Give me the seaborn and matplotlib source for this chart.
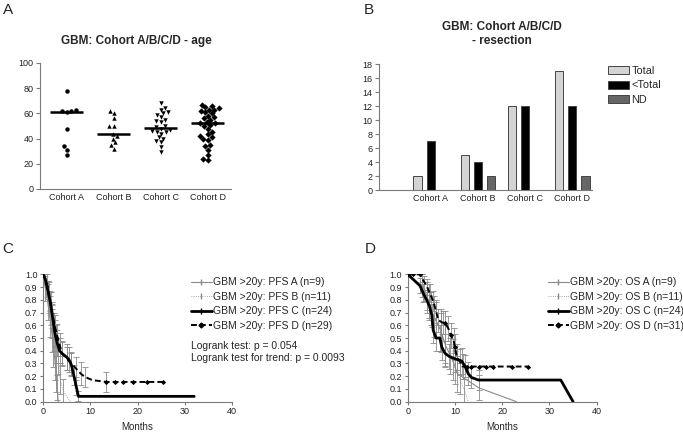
import numpy as np
import pandas as pd
import matplotlib
matplotlib.use("Agg")
import matplotlib.pyplot as plt
from matplotlib.lines import Line2D
import seaborn as sns

sns.set_style("ticks")
plt.rcParams["font.family"] = ["Liberation Sans", "DejaVu Sans"]

# ── data ────────────────────────────────────────────────────────────────────
cohorts = ["Cohort A", "Cohort B", "Cohort C", "Cohort D"]

age_a = [78, 63, 62, 61, 62, 48, 34, 31, 27]
age_b = [62, 60, 56, 50, 50, 44, 42, 40, 37, 35, 32]
age_c = [68, 64, 63, 61, 60, 59, 57, 55, 54, 53, 50, 49, 48, 47, 46, 45, 45,
         44, 41, 40, 38, 37, 33, 29]
age_d = [67, 66, 65, 64, 63, 63, 62, 61, 60, 58, 57, 56, 55, 53, 52, 52, 51,
         50, 48, 45, 44, 42, 41, 40, 39, 35, 34, 31, 27, 24, 23]

res_types = ["Total", "<Total", "ND"]
res_total = [2, 5, 12, 17]
res_less = [7, 4, 12, 12]
res_nd = [0, 2, 0, 2]

# PFS (panel C): time (months), survival fraction, error
pfs_a_t = [0, 0.5, 1.0, 1.4, 1.8, 2.2, 2.5, 2.8, 3.0, 3.2]
pfs_a_s = [1, 0.89, 0.78, 0.67, 0.56, 0.44, 0.33, 0.22, 0.11, 0.0]
pfs_a_e = [0, 0.10, 0.14, 0.16, 0.17, 0.17, 0.16, 0.14, 0.10, 0]

pfs_b_t = [0, 0.8, 1.2, 1.6, 2.0, 2.4, 2.8, 3.2, 3.6, 4.2, 5.8]
pfs_b_s = [1, 0.91, 0.82, 0.73, 0.64, 0.55, 0.45, 0.36, 0.18, 0.09, 0.0]
pfs_b_e = [0, 0.09, 0.12, 0.13, 0.14, 0.15, 0.15, 0.14, 0.12, 0.09, 0]

pfs_c_t = [0, 0.5, 1, 1.5, 2, 2.5, 3, 3.5, 4, 5, 5.5, 6, 6.5, 7, 7.5, 32]
pfs_c_s = [1, 0.96, 0.875, 0.79, 0.67, 0.54, 0.46, 0.40, 0.38, 0.35, 0.33,
           0.29, 0.21, 0.125, 0.042, 0.042]
pfs_c_e = [0, 0.04, 0.07, 0.08, 0.09, 0.10, 0.10, 0.10, 0.10, 0.10, 0.10,
           0.09, 0.08, 0.07, 0.04, 0]

pfs_d_t = [0, 0.5, 1, 1.5, 2, 2.5, 3, 3.5, 4, 5, 6, 7, 8, 8.8, 10.4, 13.4, 25.5]
pfs_d_s = [1, 0.97, 0.90, 0.79, 0.69, 0.59, 0.52, 0.45, 0.38, 0.34, 0.30,
           0.26, 0.22, 0.196, 0.17, 0.155, 0.155]
pfs_d_e = [0, 0.03, 0.05, 0.07, 0.08, 0.09, 0.09, 0.09, 0.09, 0.09, 0.09,
           0.09, 0.09, 0.08, 0, 0.075, 0]
pfs_d_ct = [13.4, 15.3, 17, 19, 22, 25.5]
pfs_d_cs = [0.155, 0.155, 0.155, 0.155, 0.155, 0.155]

# OS (panel D)
os_a_t = [0, 3.5, 4.5, 5.5, 7, 8, 9.5, 10.5, 15, 23]
os_a_s = [1, 0.89, 0.78, 0.67, 0.56, 0.44, 0.33, 0.22, 0.11, 0.0]
os_a_e = [0, 0.10, 0.14, 0.16, 0.17, 0.17, 0.16, 0.14, 0.10, 0]

os_b_t = [0, 3, 4, 5, 6, 7, 8, 9, 10, 11, 12, 12.8]
os_b_s = [1, 0.91, 0.82, 0.73, 0.64, 0.55, 0.45, 0.36, 0.27, 0.18, 0.09, 0.0]
os_b_e = [0, 0.09, 0.12, 0.13, 0.14, 0.15, 0.15, 0.14, 0.13, 0.12, 0.09, 0]

os_c_t = [0, 2.6, 3.3, 4, 4.6, 5.1, 5.4, 6, 6.8, 7.2, 7.9, 8.8, 10, 11.4,
          12.1, 12.8, 13.5, 15, 32.4, 35]
os_c_s = [1, 0.91, 0.85, 0.80, 0.75, 0.68, 0.56, 0.50, 0.50, 0.43, 0.38,
          0.355, 0.337, 0.32, 0.28, 0.22, 0.19, 0.17, 0.17, 0.0]
os_c_e = [0, 0.06, 0.07, 0.08, 0.09, 0.09, 0.10, 0.10, 0.10, 0.10, 0.10,
          0.10, 0.10, 0.10, 0.09, 0.09, 0.08, 0.08, 0, 0]

os_d_t = [0, 2.5, 3, 4, 4.7, 5.4, 6, 6.5, 7.4, 7.9, 8.6, 9.1, 9.7, 10, 10.4,
          11.1, 11.6, 25.5]
os_d_s = [1, 1, 0.97, 0.91, 0.85, 0.79, 0.71, 0.64, 0.62, 0.62, 0.575, 0.52,
          0.48, 0.43, 0.35, 0.31, 0.276, 0.276]
os_d_e = [0, 0, 0.03, 0.05, 0.07, 0.08, 0.09, 0.09, 0.09, 0.09, 0.10, 0.10,
          0.10, 0.10, 0.10, 0.10, 0.10, 0]
os_d_ct = [1.2, 2.5, 7.9, 9.1, 10.0, 12.5, 13.5, 15, 16.5, 18, 22, 25.5]
os_d_cs = [1, 1, 0.62, 0.52, 0.43, 0.276, 0.276, 0.276, 0.276, 0.276, 0.276, 0.276]

pfs_labels = ["GBM >20y: PFS A (n=9)", "GBM >20y: PFS B (n=11)",
              "GBM >20y: PFS C (n=24)", "GBM >20y: PFS D (n=29)"]
os_labels = ["GBM >20y: OS A (n=9)", "GBM >20y: OS B (n=11)",
             "GBM >20y: OS C (n=24)", "GBM >20y: OS D (n=31)"]

# ── figure ──────────────────────────────────────────────────────────────────
W, H = 683, 432
fig = plt.figure(figsize=(W / 100, H / 100), dpi=100)


def px_axes(x0, y0, x1, y1):
    # pixel box (left, top, right, bottom) -> axes
    return fig.add_axes([x0 / W, 1 - y1 / H, (x1 - x0) / W, (y1 - y0) / H])


SPINE = "#7a7a7a"
FS = 6.5


def style(ax):
    sns.despine(ax=ax)
    for sp in ("left", "bottom"):
        ax.spines[sp].set_color(SPINE)
        ax.spines[sp].set_linewidth(0.8)
    ax.tick_params(colors=SPINE, labelcolor="#222222", labelsize=FS,
                   length=3, width=0.8, pad=1.5)


# ── A: age scatter ──────────────────────────────────────────────────────────
axA = px_axes(40, 63, 231, 189)
age_df = pd.DataFrame({
    "cohort": [cohorts[0]] * len(age_a) + [cohorts[1]] * len(age_b)
              + [cohorts[2]] * len(age_c) + [cohorts[3]] * len(age_d),
    "age": age_a + age_b + age_c + age_d,
})
markers = ["o", "^", "v", "D"]
for c, m in zip(cohorts, markers):
    sub = age_df[age_df["cohort"] == c]
    sns.swarmplot(data=sub, x="cohort", y="age", order=cohorts, ax=axA,
                  marker=m, color="black", size=3.2, linewidth=0)
sns.boxplot(data=age_df, x="cohort", y="age", order=cohorts, ax=axA,
            showbox=False, showcaps=False, showfliers=False,
            whiskerprops={"visible": False},
            medianprops={"color": "black", "linewidth": 1.8}, width=0.7)
axA.set_xlim(-0.57, 3.49)
axA.set_ylim(0, 100)
axA.set_yticks([0, 20, 40, 60, 80, 100])
axA.set_xlabel("")
axA.set_ylabel("")
style(axA)
axA.tick_params(axis="x", length=0, pad=3)

# ── B: resection bars ───────────────────────────────────────────────────────
axB = px_axes(379, 64, 592, 190)
res_df = pd.DataFrame({
    "cohort": cohorts * 3,
    "type": [res_types[0]] * 4 + [res_types[1]] * 4 + [res_types[2]] * 4,
    "count": res_total + res_less + res_nd,
})
sns.barplot(data=res_df, x="cohort", y="count", hue="type", order=cohorts,
            hue_order=res_types, ax=axB,
            palette=["#d4d4d4", "#000000", "#666666"],
            width=0.84, gap=0.36, edgecolor="#444444", linewidth=0.7)
axB.set_xlim(-1.1, 3.42)
axB.set_ylim(0, 18)
axB.set_yticks(range(0, 19, 2))
axB.set_xlabel("")
axB.set_ylabel("")
style(axB)
axB.tick_params(axis="x", length=0, pad=3)
axB.legend(loc="upper left", bbox_to_anchor=(1.075, 0.985), frameon=False,
           fontsize=7.8, handlelength=1.9, handleheight=0.75,
           handletextpad=0.25, labelspacing=0.42, borderpad=0, borderaxespad=0)


# ── C / D: survival curves ──────────────────────────────────────────────────
def km(ax, t, s, e, color, lw, ls, label):
    t, s, e = np.asarray(t), np.asarray(s), np.asarray(e)
    k = e > 0
    ax.errorbar(t[k], s[k], yerr=e[k], fmt="none", ecolor="#8a8a8a",
                elinewidth=0.6, capsize=2, capthick=0.6, zorder=1)
    sns.lineplot(x=t, y=s, ax=ax, color=color, linewidth=lw, linestyle=ls,
                 sort=False, estimator=None, label=label, zorder=3)


def km_panel(ax, curves, labels, cens_t, cens_s, leg_x, text=None):
    styles = [("#8a8a8a", 0.8, "-"), ("#8a8a8a", 0.6, ":"),
              ("black", 2.0, "-"), ("black", 1.4, (0, (3, 1.6)))]
    for (t, s, e), (col, lw, ls), lab in zip(curves, styles, labels):
        km(ax, t, s, e, col, lw, ls, lab)
    sns.scatterplot(x=cens_t, y=cens_s, ax=ax, marker="D", s=7,
                    color="black", linewidth=0, zorder=4)
    ax.set_xlim(0, 40)
    ax.set_ylim(0, 1.0)
    ax.set_xticks([0, 10, 20, 30, 40])
    ax.set_yticks(np.round(np.arange(0, 1.01, 0.1), 1))
    ax.set_yticklabels([f"{v:.1f}" for v in np.arange(0, 1.01, 0.1)])
    ax.set_xlabel("Months", fontsize=7, labelpad=4)
    ax.set_ylabel("")
    style(ax)
    ax.tick_params(length=2.5)
    handles = [
        Line2D([], [], color="#8a8a8a", lw=0.8, ls="-", marker="|", ms=4),
        Line2D([], [], color="#8a8a8a", lw=0.6, ls=":", marker="|", ms=4),
        Line2D([], [], color="black", lw=2.0, ls="-", marker="|", ms=4),
        Line2D([], [], color="black", lw=1.4, ls=(0, (3, 1.6)), marker="D", ms=2.5),
    ]
    ax.legend(handles, labels, loc="upper left", bbox_to_anchor=(leg_x, 0.975),
              frameon=False, fontsize=7.5, handlelength=2.0,
              handletextpad=0.1, labelspacing=0.42, borderpad=0,
              borderaxespad=0)
    if text:
        for i, line in enumerate(text):
            ax.text(0.783, 0.437 - i * 0.094, line, transform=ax.transAxes,
                    fontsize=7.5, va="center", ha="left", clip_on=False)


axC = px_axes(43, 274.3, 232, 401.7)
km_panel(axC,
         [(pfs_a_t, pfs_a_s, pfs_a_e), (pfs_b_t, pfs_b_s, pfs_b_e),
          (pfs_c_t, pfs_c_s, pfs_c_e), (pfs_d_t, pfs_d_s, pfs_d_e)],
         pfs_labels, pfs_d_ct, pfs_d_cs, 0.783,
         text=["Logrank test: p = 0.054",
               "Logrank test for trend: p = 0.0093"])

axD = px_axes(407.7, 274.3, 596.7, 401.7)
km_panel(axD,
         [(os_a_t, os_a_s, os_a_e), (os_b_t, os_b_s, os_b_e),
          (os_c_t, os_c_s, os_c_e), (os_d_t, os_d_s, os_d_e)],
         os_labels, os_d_ct, os_d_cs, 0.742)

# ── titles and panel letters ────────────────────────────────────────────────
fig.text(136 / W, 1 - 41 / H, "GBM: Cohort A/B/C/D - age", ha="center",
         va="center", fontsize=8.5, fontweight="bold")
fig.text(502 / W, 1 - 34 / H, "GBM: Cohort A/B/C/D\n- resection", ha="center",
         va="center", fontsize=8.5, fontweight="bold", linespacing=1.15)
for letter, x, y in [("A", 8, 10), ("B", 369, 10), ("C", 8, 249), ("D", 370, 249)]:
    fig.text(x / W, 1 - y / H, letter, ha="center", va="center", fontsize=11)

fig.savefig("out.png", dpi=100)
